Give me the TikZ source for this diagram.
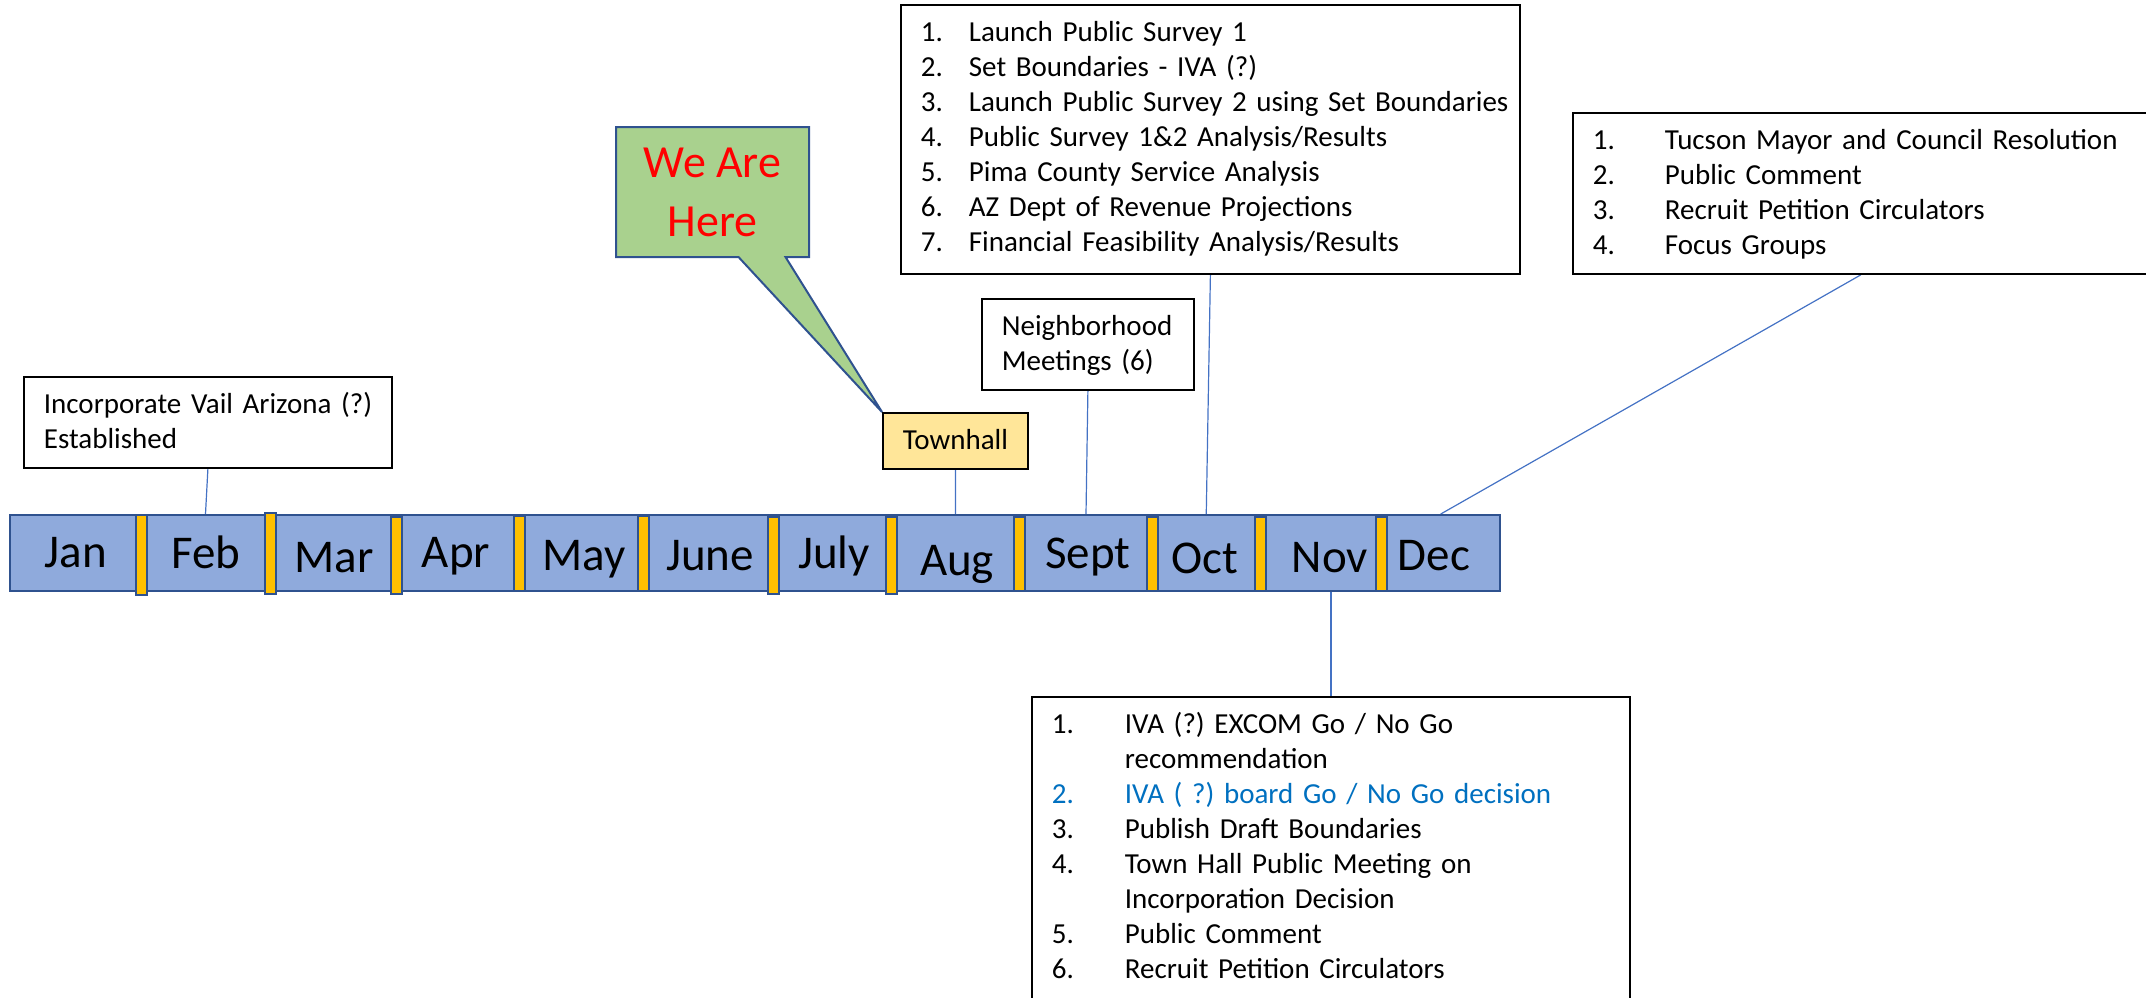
\documentclass[tikz,border=0pt]{standalone}
\usepackage{fontspec}
\setmainfont{Carlito}
\usepackage{tikz}
\usetikzlibrary{shapes.callouts}
\pgfdeclarelayer{bg}
\pgfsetlayers{bg,main}
\frenchspacing
\definecolor{barblue}{HTML}{8FAADC}
\definecolor{barline}{HTML}{2F528F}
\definecolor{sepgold}{HTML}{FFC000}
\definecolor{herefill}{HTML}{A9D18E}
\definecolor{townfill}{HTML}{FFE699}
\definecolor{linkblue}{HTML}{4472C4}
\definecolor{itemblue}{HTML}{0070C0}
\tikzset{
    month/.style={draw=barline, line width=1pt, fill=barblue, minimum height=38pt, inner sep=0pt},
    monthtext/.style={anchor=base, inner sep=0pt, font=\fontsize{23.5}{28}\selectfont},
    gap/.style={draw=barline, line width=1pt, fill=sepgold, minimum width=5.5pt, inner sep=0pt},
    note/.style={draw, line width=0.9pt, fill=white, anchor=north west, align=left,
        inner xsep=10pt, inner ysep=7.5pt, text height=11pt, text depth=2pt,
        font=\fontsize{14.5}{17.5}\selectfont},
    % depth of a note that holds #1 lines
    lines/.style={text depth={(#1-1)*17.5pt+2pt}},
    bubble/.style={rectangle callout, draw=barline, line width=1pt, fill=herefill, text=red,
        align=center, minimum width=96.5pt, minimum height=65pt, callout pointer width=23.5pt,
        font=\fontsize{23}{29.5}\selectfont},
    link/.style={draw=linkblue, line width=0.6pt}
}
\newcommand{\taskrow}[3][24pt]{\mbox{\makebox[#1][l]{#2}#3}}

\begin{document}
\begin{tikzpicture}[x=0.5pt, y=-0.5pt]
    \useasboundingbox (0,0) rectangle (2146,997);
    \clip (0,0) rectangle (2146,997);

    % month bar
    \foreach \nm/\lbl/\xl/\xr/\tx/\ty in {jan/Jan/10/141/76/567, feb/Feb/141/270/206/568,
        mar/Mar/270/396/334/572, apr/Apr/396/519.5/456/567, may/May/519.5/643.5/584/570,
        jun/June/643.5/773.5/710/570, jul/July/773.5/891.5/834/568, aug/Aug/891.5/1019.5/957/575,
        sep/Sept/1019.5/1152.5/1088/568, oct/Oct/1152.5/1260/1205/573,
        nov/Nov/1260/1381.5/1330/572, dec/Dec/1381.5/1500/1434/570}
    {
        \node[month, minimum width={(\xr-\xl)*0.5pt}] (\nm) at ({(\xl+\xr)/2},553) {};
        \node[monthtext] (\nm lbl) at (\tx,\ty) {\lbl};
    }
    \foreach \x/\ya/\yb [count=\i] in {141/515/595, 270/513/594, 396/517/594, 519.5/516/591,
        643.5/516/591, 773.5/517/594, 891.5/517/594, 1019.5/517/591, 1152.5/517/591,
        1260/517/591, 1381.5/517/591}
        \node[gap, minimum height={(\yb-\ya)*0.5pt}] (gap\i) at (\x,{(\ya+\yb)/2}) {};

    % notes above and below the bar
    \node[note, lines=2, text width=164pt] (founded) at (23,376)
        {\mbox{Incorporate Vail Arizona (?)}\\Established};
    \node[note, fill=townfill, align=center] (townhall) at (882,412) {Townhall};
    \node[note, lines=2, text width=86pt] (meetings) at (981,298)
        {\mbox{Neighborhood}\\\mbox{Meetings (6)}};
    \node[note, text depth=108.5pt, text width=289.5pt] (octtasks) at (900,4) {%
        \taskrow{1.}{Launch Public Survey 1}\\
        \taskrow{2.}{Set Boundaries - IVA (?)}\\
        \taskrow{3.}{Launch Public Survey 2 using Set Boundaries}\\
        \taskrow{4.}{Public Survey 1\&2 Analysis/Results}\\
        \taskrow{5.}{Pima County Service Analysis}\\
        \taskrow{6.}{AZ Dept of Revenue Projections}\\
        \taskrow{7.}{Financial Feasibility Analysis/Results}};
    \node[note, lines=4, text width=268pt] (dectasks) at (1572,112) {%
        \taskrow[36pt]{1.}{Tucson Mayor and Council Resolution}\\
        \taskrow[36pt]{2.}{Public Comment}\\
        \taskrow[36pt]{3.}{Recruit Petition Circulators}\\
        \taskrow[36pt]{4.}{Focus Groups}};
    \node[note, lines=9, text width=279pt] (novtasks) at (1031,696) {%
        \taskrow[36.5pt]{1.}{IVA (?) EXCOM Go / No Go}\\
        \taskrow[36.5pt]{}{recommendation}\\
        {\color{itemblue}\taskrow[36.5pt]{2.}{IVA ( ?) board Go / No Go decision}}\\
        \taskrow[36.5pt]{3.}{Publish Draft Boundaries}\\
        \taskrow[36.5pt]{4.}{Town Hall Public Meeting on}\\
        \taskrow[36.5pt]{}{Incorporation Decision}\\
        \taskrow[36.5pt]{5.}{Public Comment}\\
        \taskrow[36.5pt]{6.}{Recruit Petition Circulators}};

    \node[bubble, callout absolute pointer={(townhall.north west)}] (here) at (712.5,192)
        {We Are\\Here};

    \begin{pgfonlayer}{bg}
        \draw[link] (founded.south) -- (feb.north);
        \draw[link] (townhall.south) -- (aug.north);
        \draw[link] (meetings.south) -- (sep.north);
        \draw[link] (octtasks.south) -- (oct.north);
        \draw[link] (dectasks.south) -- (dec.north);
        \draw[link] (novtasks.north) -- (novtasks.north |- nov.south);
    \end{pgfonlayer}
\end{tikzpicture}
\end{document}
